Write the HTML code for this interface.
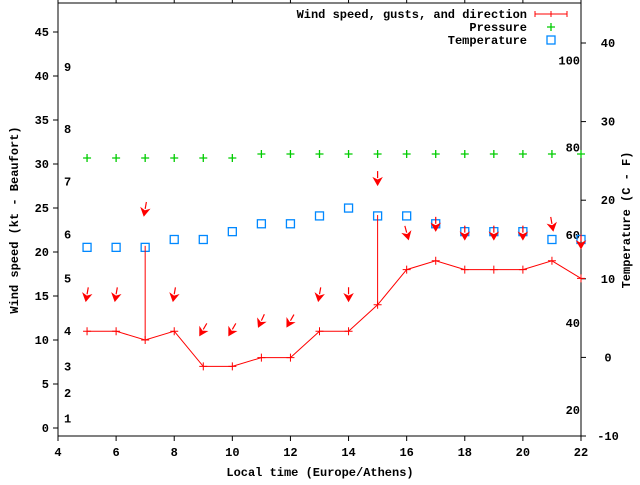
<!DOCTYPE html>
<html><head><meta charset="utf-8"><style>
body{margin:0;background:#fff}
svg text{font-family:"Liberation Mono",monospace;font-size:12px;font-weight:bold;fill:#000}
</style></head><body>
<svg width="640" height="480" viewBox="0 0 640 480" xmlns="http://www.w3.org/2000/svg">
<g id="axes"></g>
<g id="marks"></g>
<text x="320" y="476" text-anchor="middle">Local time (Europe/Athens)</text>
<text transform="translate(18,220) rotate(-90)" text-anchor="middle">Wind speed (kt - Beaufort)</text>
<text transform="translate(630,220) rotate(-90)" text-anchor="middle">Temperature (C - F)</text>
<g>
<text x="527" y="18" text-anchor="end">Wind speed, gusts, and direction</text>
<path d="M535 14H567M535 11V17M567 11V17M551 11V17" stroke="#f00" stroke-width="1"/>
<text x="527" y="31" text-anchor="end">Pressure</text>
<path d="M547 27H555M551 23V31" stroke="#0c0" stroke-width="1.3"/>
<text x="527" y="44" text-anchor="end">Temperature</text>
<rect x="547" y="36" width="8" height="8" fill="none" stroke="#08f" stroke-width="1.3"/>
</g>
</svg>
<script>
const hours=[5,6,7,8,9,10,11,12,13,14,15,16,17,18,19,20,21,22];
const speed=[11,11,10,11,7,7,8,8,11,11,14,18,19,18,18,18,19,17];
const gust=[null,null,20.7,null,null,null,null,null,null,null,24.2,null,null,null,null,null,null,null];
const dirDeg=[10,10,10,10,30,30,25,30,10,0,0,345,0,0,0,0,350,0];
const pressure=[1012,1012,1012,1012,1012,1012,1013,1013,1013,1013,1013,1013,1013,1013,1013,1013,1013,1013];
const temperature=[14,14,14,15,15,16,17,17,18,19,18,18,17,16,16,16,15,15];
const xTicks=[4,6,8,10,12,14,16,18,20,22];
const yTicks=[0,5,10,15,20,25,30,35,40,45];
const y2Ticks=[-10,0,10,20,30,40];
const beaufortLabels=["1","2","3","4","5","6","7","8","9"];
const beaufortKt=[1.1,4,7,11,17,22,28,34,41];
const fahrenheitLabels=["20","40","60","80","100"];
const fahrenheitC=[-6.7,4.4,15.6,26.7,37.8];

const L=58,R=581,T=3,B=436;
const X=v=>L+(v-4)*(R-L)/18;
const Y=v=>428-v*8.8;
const Y2=v=>B-(v+10)*7.86;
const P=v=>158-(v-1012)*4;
const NS="http://www.w3.org/2000/svg";
function mk(tag,attrs,parent,text){const e=document.createElementNS(NS,tag);for(const k in attrs)e.setAttribute(k,attrs[k]);if(text!==undefined)e.textContent=text;parent.appendChild(e);return e;}
const ax=document.getElementById('axes'),mg=document.getElementById('marks');
let f=mk('rect',{x:L,y:T,width:R-L,height:B-T,fill:'none',stroke:'#000','stroke-width':1},ax);


xTicks.forEach(v=>{const x=X(v);
 mk('path',{d:`M${x} ${B}V${B+5}M${x} ${T}V${T-5}`,stroke:'#000'},ax);
 const t=mk('text',{x:x,y:B+20,'text-anchor':'middle'},ax,String(v));
 
 });
yTicks.forEach(v=>{const y=Y(v);
 mk('path',{d:`M${L} ${y}H${L-5}`,stroke:'#000'},ax);
 const t=mk('text',{x:L-9,y:y+4,'text-anchor':'end'},ax,String(v));
 
 });
y2Ticks.forEach(v=>{const y=Y2(v);
 mk('path',{d:`M${R} ${y}H${R+5}`,stroke:'#000'},ax);
 const t=mk('text',{x:R+27,y:y+4,'text-anchor':'middle'},ax,String(v));
 
 });
beaufortLabels.forEach((s,i)=>{const t=mk('text',{x:64,y:Y(beaufortKt[i])+4},ax,s);
 
 });
fahrenheitLabels.forEach((s,i)=>{const t=mk('text',{x:R-1,y:Y2(fahrenheitC[i])+4,'text-anchor':'end'},ax,s);
 
 });
// pressure
hours.forEach((h,i)=>{const x=X(h),y=P(pressure[i]);
 const p=mk('path',{d:`M${x-4} ${y}H${x+4}M${x} ${y-4}V${y+4}`,stroke:'#0c0','stroke-width':1.3},mg);
 
 });
// temperature
hours.forEach((h,i)=>{const x=X(h),y=Y2(temperature[i]);
 const r=mk('rect',{x:x-4,y:y-4,width:8,height:8,fill:'none',stroke:'#08f','stroke-width':1.3},mg);
 
 });
// speed line
const ln=mk('polyline',{points:hours.map((h,i)=>X(h)+','+Y(speed[i])).join(' '),fill:'none',stroke:'#f00','stroke-width':1},mg);


hours.forEach((h,i)=>{const x=X(h),y=Y(speed[i]);
 const p=mk('path',{d:`M${x-4} ${y}H${x+4}M${x} ${y-4}V${y+4}`,stroke:'#f00'},mg);
 
 
 if(gust[i]!=null){const g=mk('path',{d:`M${x} ${y}V${Y(gust[i])}`,stroke:'#f00'},mg);
  
  }
 const top=Math.max(speed[i],gust[i]||0)+4.2;
 const cy=Y(top),a=dirDeg[i]*Math.PI/180,len=14;
 const dx=-Math.sin(a),dy=Math.cos(a);
 const x0=x-dx*len/2,y0=cy-dy*len/2,x1=x+dx*len/2,y1=cy+dy*len/2;
 const px=-dy,py=dx,hl=7,hw=4;
 const bx=x1-dx*hl,by=y1-dy*hl;
 const arr=mk('g',{},mg);
 
 
 mk('path',{d:`M${x0} ${y0}L${bx} ${by}`,stroke:'#f00','stroke-width':1.2},arr);
 mk('path',{d:`M${x1} ${y1}L${bx+px*hw} ${by+py*hw}L${bx+dx*2} ${by+dy*2}L${bx-px*hw} ${by-py*hw}Z`,fill:'#f00',stroke:'#f00'},arr);
});
</script>
</body></html>
